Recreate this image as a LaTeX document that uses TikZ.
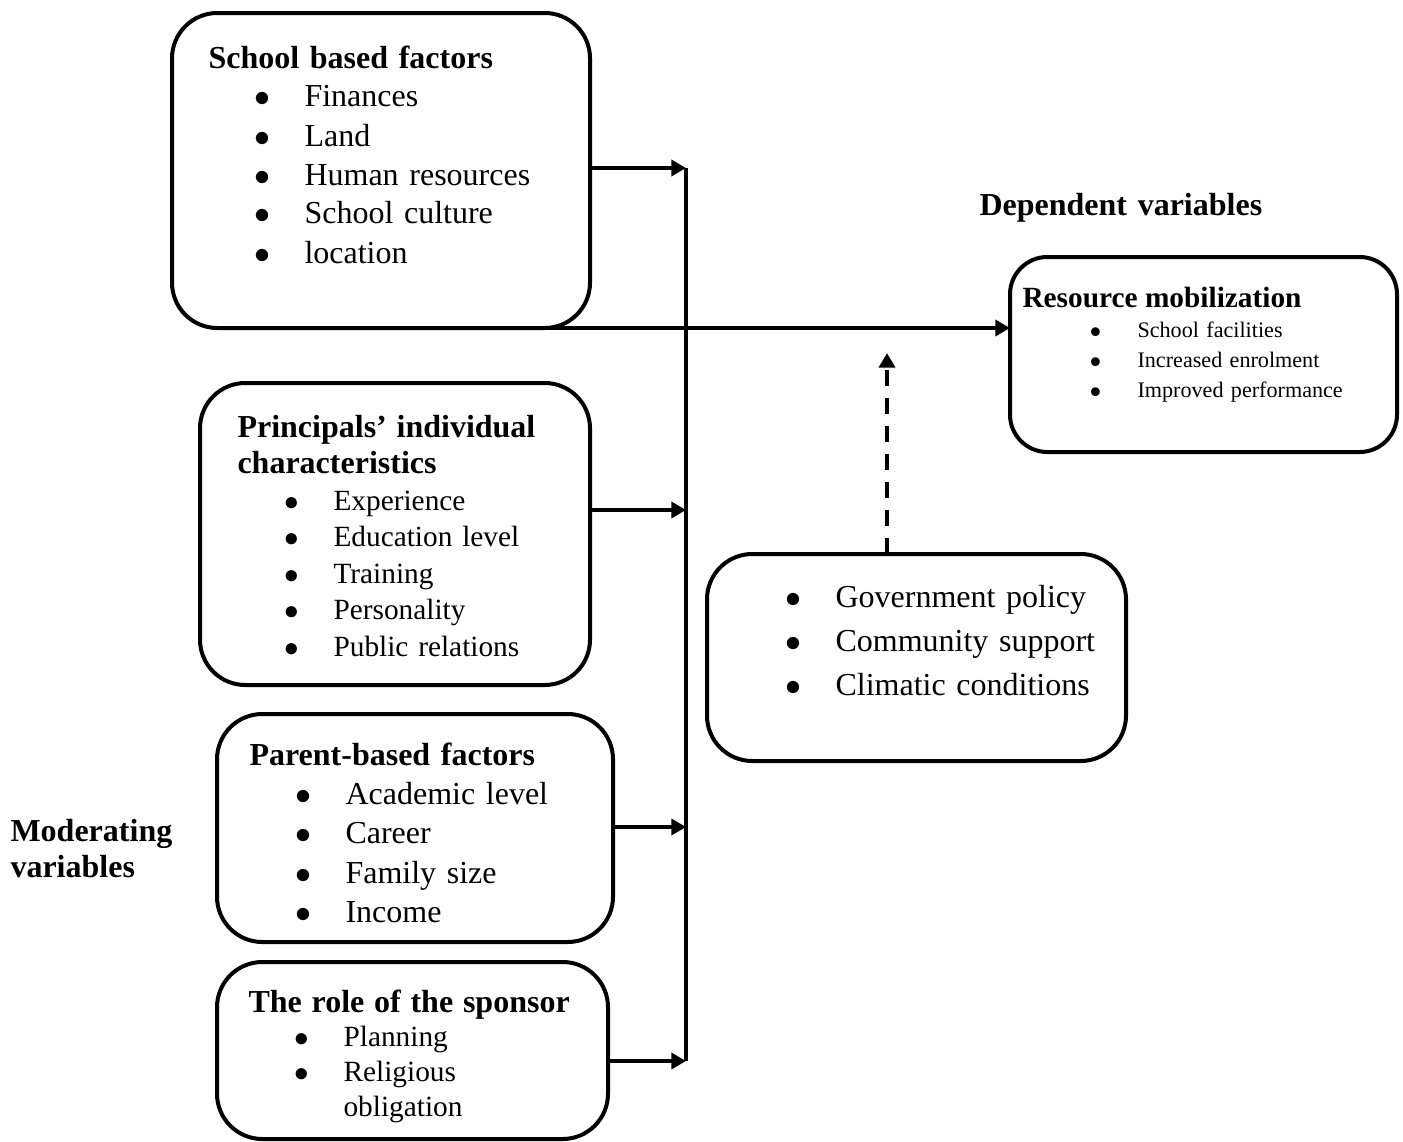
\documentclass[tikz,border=0pt]{standalone}
\usepackage{fontspec}
\setmainfont[WordSpace=0.85]{Liberation Serif}
\usetikzlibrary{arrows.meta,positioning}
\newlength\pxu
\setlength\pxu{0.375pt}
\newcommand{\itm}[2][96]{\hspace*{\dimexpr#1\pxu-42\pxu\relax}\makebox[0pt]{$\bullet$}\hspace*{42\pxu}#2}
\tikzset{factorbox/.style={draw, line width=1.5pt, rounded corners=17pt, anchor=north west,
                           inner sep=0pt, outer sep=0pt},
        boxtext/.style={anchor=base west, inner sep=0pt, align=left, text width=420*\pxu},
        link/.style={line width=1.3pt},
        flow/.style={line width=1.3pt, -{Triangle[length=5.5pt,width=6pt]}},
        moderating/.style={flow, line width=1.4pt, dash pattern=on 6pt off 4.5pt},
        }

\begin{document}
\begin{tikzpicture}[x=0.375pt,y=-0.375pt]
    \useasboundingbox (0,0) rectangle (1403,1142);

    \node [factorbox, minimum width=418*\pxu, minimum height=315*\pxu] (school) at (172,13) {};
    \node [factorbox, minimum width=390*\pxu, minimum height=302*\pxu] (principal) at (200,383) {};
    \node [factorbox, minimum width=396*\pxu, minimum height=228*\pxu] (parent) at (217,714) {};
    \node [factorbox, minimum width=391*\pxu, minimum height=177*\pxu] (sponsor) at (217,962) {};
    \node [factorbox, minimum width=419*\pxu, minimum height=207*\pxu] (factors) at (707,554) {};
    \node [factorbox, rounded corners=14pt, minimum width=387*\pxu, minimum height=195*\pxu] (resource) at (1010,257) {};

    \node [boxtext, font=\fontsize{12}{14.625}\selectfont] (schooltxt) at (208,68) {
        \textbf{School based factors}\\
        \itm{Finances}\\
        \itm{Land}\\
        \itm{Human resources}\\
        \itm{School culture}\\
        \itm{location}};

    \node [boxtext, font=\fontsize{11}{13.7}\selectfont] (principaltxt) at (237,437) {
        {\fontsize{12}{13.2}\selectfont\bfseries Principals' individual\\ characteristics}\\
        \itm{Experience}\\
        \itm{Education level}\\
        \itm{Training}\\
        \itm{Personality}\\
        \itm{Public relations}};

    \node [boxtext, font=\fontsize{12}{14.75}\selectfont] (parenttxt) at (249,765) {
        \textbf{Parent-based factors}\\
        \itm{Academic level}\\
        \itm{Career}\\
        \itm{Family size}\\
        \itm{Income}};

    \node [boxtext, font=\fontsize{11}{13.1}\selectfont] (sponsortxt) at (248,1012) {
        {\fontsize{12}{13.1}\selectfont\bfseries The role of the sponsor}\\
        \itm[95]{Planning}\\
        \itm[95]{Religious}\\
        \hspace*{95\pxu}obligation};

    \node [boxtext, font=\fontsize{12}{16.6}\selectfont] (factorstxt) at (739,607) {
        \itm{Government policy}\\
        \itm{Community support}\\
        \itm{Climatic conditions}};

    \node [boxtext, font=\fontsize{8.3}{11.25}\selectfont] (resourcetxt) at (1022,307) {
        {\fontsize{11}{11.25}\selectfont\bfseries Resource mobilization}\\
        \itm[115]{School facilities}\\
        \itm[115]{Increased enrolment}\\
        \itm[115]{Improved performance}};

    \node [boxtext, font=\fontsize{12}{14.6}\selectfont\bfseries] (dependent) at (979,215) {Dependent variables};
    \node [boxtext, font=\fontsize{12}{13.5}\selectfont\bfseries] (moderatinglbl) at (10,841) {Moderating\\variables};

    \coordinate (j1) at (686,168);
    \coordinate (j2) at (686,510);
    \coordinate (j3) at (686,827);
    \coordinate (j4) at (686,1061);
    \coordinate (mtip) at (887,353);

    \draw [link] (j1) -- (j4);
    \draw [flow] (school.east |- j1) -- (j1);
    \draw [flow] (principal.east |- j2) -- (j2);
    \draw [flow] (parent.east |- j3) -- (j3);
    \draw [flow] (sponsor.east |- j4) -- (j4);

    \draw [flow] ([shift={(-44,0)}]school.south east) -- (school.south east -| resource.west);
    \draw [moderating] (factors.north -| mtip) -- (mtip);

\end{tikzpicture}
\end{document}
